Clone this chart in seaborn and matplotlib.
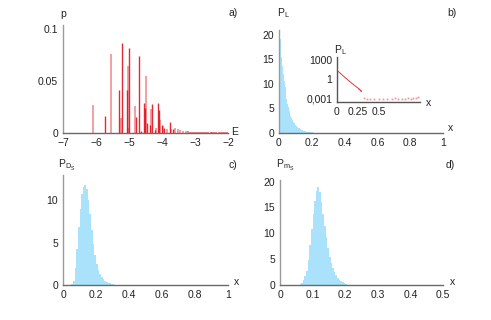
import numpy as np
import matplotlib
matplotlib.use("Agg")
import matplotlib.pyplot as plt
import seaborn as sns

# --- dados ---
# a) espectro de energias (duas series sobrepostas, tons diferentes)
e_dark = [-5.73, -5.31, -5.20, -5.06, -5.01, -4.79, -4.69, -4.63, -4.56, -4.53,
          -4.46, -4.36, -4.29, -4.21, -4.11, -4.09, -4.01, -3.93, -3.76, -3.67]
p_dark = [0.016, 0.041, 0.087, 0.041, 0.082, 0.015, 0.074, 0.002, 0.029, 0.024,
          0.010, 0.008, 0.028, 0.003, 0.029, 0.022, 0.008, 0.005, 0.011, 0.004]
e_light = [-6.08, -5.56, -5.25, -5.04, -5.02, -4.82, -4.49, -4.34, -4.18, -4.05,
           -3.97, -3.86, -3.72, -3.60, -3.53, -3.46, -3.35, -3.28]
p_light = [0.027, 0.076, 0.014, 0.065, 0.005, 0.026, 0.055, 0.023, 0.005, 0.013,
           0.007, 0.004, 0.004, 0.005, 0.0035, 0.0025, 0.002, 0.002]
e_tail = [-3.22, -3.16, -3.10, -3.03, -2.97, -2.91, -2.85, -2.78, -2.72, -2.66,
          -2.60, -2.53, -2.47, -2.41, -2.35, -2.28, -2.22, -2.16, -2.10, -2.04]
p_tail = [0.0015, 0.0012, 0.0014, 0.0011, 0.0012, 0.0010, 0.0011, 0.0010, 0.0012, 0.0010,
          0.0011, 0.0010, 0.0010, 0.0012, 0.0010, 0.0011, 0.0010, 0.0010, 0.0011, 0.0010]

# b) P_L, classes de 0.005 entre 0 e 0.3
pl_x = [0.0025, 0.0075, 0.0125, 0.0175, 0.0225, 0.0275, 0.0325, 0.0375, 0.0425, 0.0475,
        0.0525, 0.0575, 0.0625, 0.0675, 0.0725, 0.0775, 0.0825, 0.0875, 0.0925, 0.0975,
        0.1025, 0.1075, 0.1125, 0.1175, 0.1225, 0.1275, 0.1325, 0.1375, 0.1425, 0.1475,
        0.1525, 0.1575, 0.1625, 0.1675, 0.1725, 0.1775, 0.1825, 0.1875, 0.1925, 0.1975,
        0.2025, 0.2075, 0.2125, 0.2175, 0.2225, 0.2275, 0.2325, 0.2375, 0.2425, 0.2475,
        0.2525, 0.2575, 0.2625, 0.2675, 0.2725, 0.2775, 0.2825, 0.2875, 0.2925, 0.2975]
pl_p = [21.3, 19.2, 17.3, 15.4, 13.6, 12.0, 10.6, 9.3, 8.1, 7.0,
        6.0, 5.2, 4.5, 3.9, 3.4, 3.0, 2.6, 2.3, 2.0, 1.8,
        1.6, 1.4, 1.25, 1.1, 0.95, 0.85, 0.75, 0.65, 0.57, 0.5,
        0.44, 0.39, 0.34, 0.30, 0.27, 0.24, 0.21, 0.19, 0.17, 0.15,
        0.13, 0.115, 0.10, 0.09, 0.08, 0.07, 0.062, 0.055, 0.05, 0.045,
        0.04, 0.035, 0.03, 0.022, 0.028, 0.02, 0.014, 0.018, 0.012, 0.01]
pl_tail_x = [0.33, 0.36, 0.40, 0.45, 0.50, 0.56, 0.60, 0.66, 0.70, 0.74,
             0.78, 0.82, 0.86, 0.89, 0.92, 0.95, 0.97]
pl_tail_p = [0.0009, 0.0008, 0.0007, 0.0008, 0.0008, 0.0007, 0.0008, 0.0008, 0.0009, 0.0008,
             0.0007, 0.0008, 0.0009, 0.0008, 0.0010, 0.0009, 0.0015]

# c) P_Ds, classes de 0.01
pd_x = [0.055, 0.065, 0.075, 0.085, 0.095, 0.105, 0.115, 0.125, 0.135, 0.145,
        0.155, 0.165, 0.175, 0.185, 0.195, 0.205, 0.215, 0.225, 0.235, 0.245,
        0.255, 0.265, 0.275, 0.285, 0.295, 0.305, 0.315]
pd_p = [0.1, 0.5, 2.0, 4.3, 6.8, 9.0, 10.7, 11.6, 11.8, 11.3,
        10.1, 8.4, 6.5, 4.8, 3.5, 2.5, 1.8, 1.3, 0.95, 0.7,
        0.5, 0.38, 0.27, 0.18, 0.12, 0.08, 0.05]

# d) P_ms, classes de 0.005
pm_x = [0.0625, 0.0675, 0.0725, 0.0775, 0.0825, 0.0875, 0.0925, 0.0975, 0.1025, 0.1075,
        0.1125, 0.1175, 0.1225, 0.1275, 0.1325, 0.1375, 0.1425, 0.1475, 0.1525, 0.1575,
        0.1625, 0.1675, 0.1725, 0.1775, 0.1825, 0.1875, 0.1925, 0.1975, 0.2025, 0.2075,
        0.2125]
pm_p = [0.1, 0.4, 0.9, 1.7, 2.8, 4.9, 7.7, 10.8, 13.8, 16.3,
        18.2, 18.9, 18.0, 16.0, 13.8, 11.4, 9.2, 7.2, 5.5, 4.2,
        3.2, 2.5, 1.9, 1.4, 1.0, 0.75, 0.5, 0.3, 0.15, 0.08,
        0.04]

# rotulos dos eixos
a_xticks = [-7, -6, -5, -4, -3, -2]
a_xlabels = ["\u22127", "\u22126", "\u22125", "\u22124", "\u22123", "\u22122"]
a_yticks = [0, 0.05, 0.1]
a_ylabels = ["0", "0.05", "0.1"]
b_xticks = [0, 0.2, 0.4, 0.6, 0.8, 1]
b_xlabels = ["0", "0.2", "0.4", "0.6", "0.8", "1"]
b_yticks = [0, 5, 10, 15, 20]
ins_xticks = [0, 0.25, 0.5]
ins_xlabels = ["0", "0.25", "0.5"]
ins_yticks = [0.001, 1, 1000]
ins_ylabels = ["0,001", "1", "1000"]
c_yticks = [0, 5, 10]
d_xticks = [0, 0.1, 0.2, 0.3, 0.4, 0.5]
d_xlabels = ["0", "0.1", "0.2", "0.3", "0.4", "0.5"]
d_yticks = [0, 5, 10, 15, 20]

# --- estilo ---
sns.set_theme(style="white")
plt.rcParams["font.family"] = ["Liberation Sans", "DejaVu Sans"]
plt.rcParams["mathtext.fontset"] = "custom"
plt.rcParams["mathtext.rm"] = "Liberation Sans"
plt.rcParams["mathtext.it"] = "Liberation Sans"

FS = 7.5
RED = "#e3101c"
BLUE = "#a9e2fa"
W, H = 491, 320


def px_axes(fig, x0, y0, x1, y1):
    # cria eixos a partir de coordenadas em pixels (origem no topo)
    return fig.add_axes([x0 / W, 1 - y1 / H, (x1 - x0) / W, (y1 - y0) / H])


def style_axes(ax):
    sns.despine(ax=ax)
    ax.spines["left"].set_color("#9a9a9a")
    ax.spines["bottom"].set_color("#6a6a6a")
    ax.spines["left"].set_linewidth(1.0)
    ax.spines["bottom"].set_linewidth(1.0)
    ax.tick_params(axis="both", which="both", direction="inout", length=3,
                   width=0.6, color="#777777", labelsize=FS, pad=2,
                   labelcolor="#222222")
    ax.set_facecolor("none")
    ax.set_xlabel("")
    ax.set_ylabel("")


def ftext(x, y, s, **kw):
    fig.text(x / W, 1 - y / H, s, fontsize=FS, color="#222222",
             ha="center", va="center", **kw)


def hist(ax, x, p, bw):
    # bordas das classes a partir dos centros
    edges = [float(c - bw / 2) for c in x] + [float(x[-1] + bw / 2)]
    sns.histplot(x=x, weights=p, bins=edges, ax=ax,
                 element="step", fill=True, color=BLUE, alpha=1, linewidth=0)


fig = plt.figure(figsize=(W / 100, H / 100), dpi=100)

# a)
ax_a = px_axes(fig, 63, 25, 228, 133)
ax_a.vlines(e_tail, 0, p_tail, color=RED, alpha=0.6, lw=1.2)
ax_a.vlines(e_light, 0, p_light, color=RED, alpha=0.4, lw=1.4)
ax_a.vlines(e_dark, 0, p_dark, color=RED, alpha=0.9, lw=1.0)
ax_a.set_xlim(-7, -2)
ax_a.set_ylim(0, 0.104)
ax_a.set_xticks(a_xticks, a_xlabels)
ax_a.set_yticks(a_yticks, a_ylabels)
style_axes(ax_a)

# b)
ax_b = px_axes(fig, 279, 30, 443, 133)
hist(ax_b, pl_x, pl_p, 0.005)
ax_b.set_xlim(0, 1)
ax_b.set_ylim(0, 21)
ax_b.set_xticks(b_xticks, b_xlabels)
ax_b.set_yticks(b_yticks)
style_axes(ax_b)

# inset (escala log)
ax_i = px_axes(fig, 337, 57, 420, 102)
sns.lineplot(x=pl_x, y=pl_p, ax=ax_i, color=RED, lw=0.7, alpha=0.85)
ax_i.plot(pl_tail_x, pl_tail_p, ls="none", marker="s", ms=0.7, color=RED, alpha=0.25)
ax_i.set_yscale("log")
ax_i.set_xlim(0, 1)
ax_i.set_ylim(10 ** -3.6, 10 ** 3.5)
ax_i.set_xticks(ins_xticks, ins_xlabels)
ax_i.set_yticks(ins_yticks, ins_ylabels)
ax_i.minorticks_off()
style_axes(ax_i)
ax_i.spines["left"].set_color("#555555")
ax_i.spines["bottom"].set_color("#555555")

# c)
ax_c = px_axes(fig, 63, 175, 228, 285)
hist(ax_c, pd_x, pd_p, 0.01)
ax_c.set_xlim(0, 1)
ax_c.set_ylim(0, 13)
ax_c.set_xticks(b_xticks, b_xlabels)
ax_c.set_yticks(c_yticks)
style_axes(ax_c)

# d)
ax_d = px_axes(fig, 280, 180, 443, 285)
hist(ax_d, pm_x, pm_p, 0.005)
ax_d.set_xlim(0, 0.5)
ax_d.set_ylim(0, 20.3)
ax_d.set_xticks(d_xticks, d_xlabels)
ax_d.set_yticks(d_yticks)
style_axes(ax_d)

# rotulos dos paineis
ftext(63, 14, "p")
ftext(235, 132, "E")
ftext(233, 13, "a)")
ftext(283, 13, r"P$_\mathregular{L}$")
ftext(452, 13, "b)")
ftext(451, 128, "x")
ftext(340, 50, r"P$_\mathregular{L}$")
ftext(429, 103, "x")
ftext(67, 165, r"P$_{\mathregular{D}_\mathregular{S}}$")
ftext(233, 165, "c)")
ftext(237, 282, "x")
ftext(285, 165, r"P$_{\mathregular{m}_\mathregular{S}}$")
ftext(450, 165, "d)")
ftext(452, 282, "x")

fig.savefig("out.png", dpi=100)
